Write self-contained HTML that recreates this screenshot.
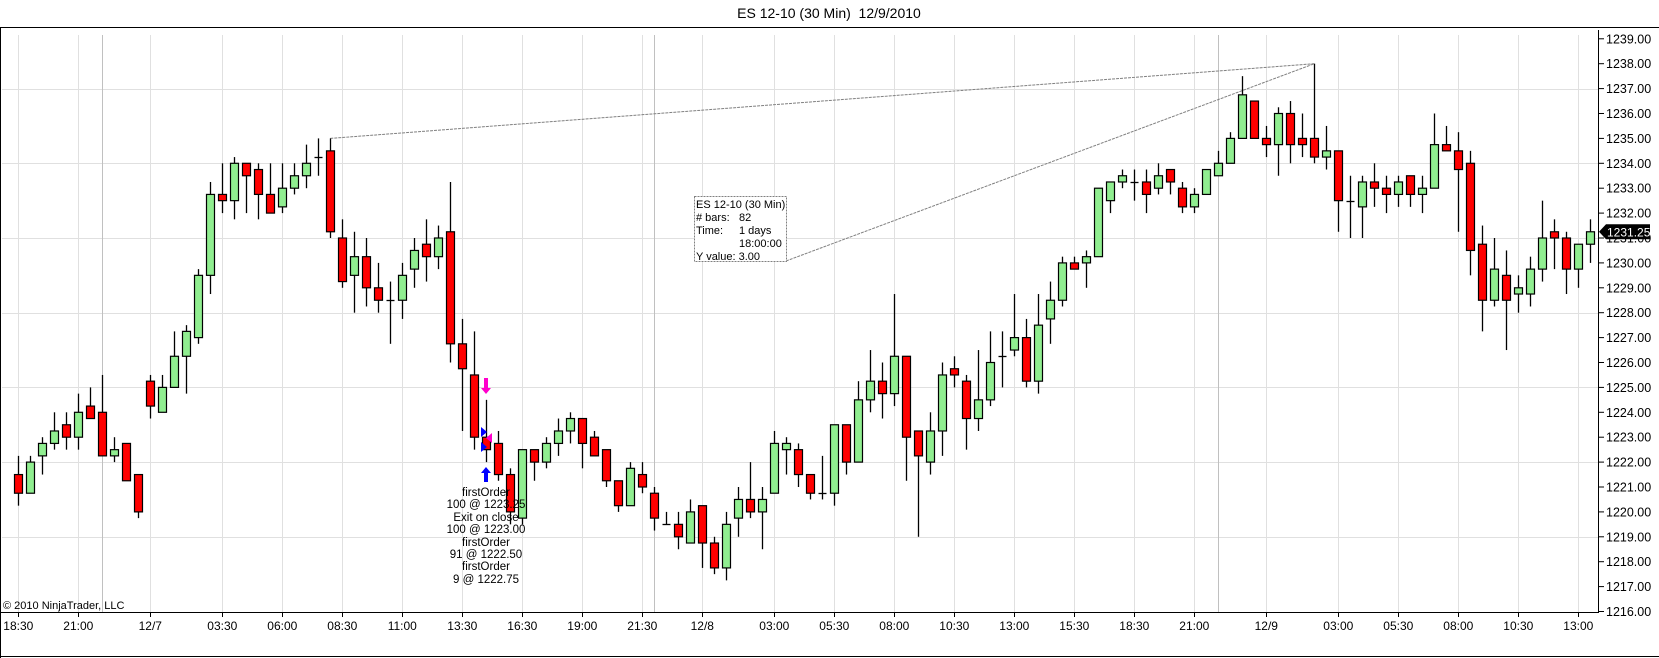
<!DOCTYPE html>
<html><head><meta charset="utf-8"><style>
html,body{margin:0;padding:0;background:#fff;}
svg{display:block;font-family:"Liberation Sans",Arial,sans-serif;}
</style></head><body>
<svg id="chart" width="1659" height="658" viewBox="0 0 1659 658" xmlns="http://www.w3.org/2000/svg">
<text x="829" y="18" text-anchor="middle" font-size="14" fill="#000" xml:space="preserve" style="white-space:pre">ES 12-10 (30 Min)  12/9/2010</text>
<g id="grid"></g>
<g id="frame">
<line x1="0" y1="27.5" x2="1659" y2="27.5" stroke="#000"/>
<line x1="0.5" y1="27" x2="0.5" y2="658" stroke="#000"/>
<line x1="0" y1="612.5" x2="1599" y2="612.5" stroke="#000"/>
<line x1="0" y1="656.5" x2="1659" y2="656.5" stroke="#000"/>
<line x1="1598.5" y1="30" x2="1598.5" y2="613" stroke="#000"/>
</g>
<g id="drawings"></g>
<g id="candles"></g>
<g id="yaxis"></g>
<g id="xaxis"></g>
<g id="orders">
<polygon points="484,378 488,378 488,388 491,388 486,394 481,388 484,388" fill="#ff00cc"/>
<polygon points="481,427 487,432 481,437" fill="#0000ff"/>
<polygon points="481,442 487,447 481,452" fill="#0000ff"/>
<polygon points="492,433 486,438 492,443" fill="#ff00cc"/>
<polygon points="486,467 491,473 488,473 488,482 484,482 484,473 481,473" fill="#0000ff"/>
<g font-size="11.5" text-anchor="middle" fill="#000">
<text x="486" y="496">firstOrder</text>
<text x="486" y="508">100 @ 1223.25</text>
<text x="486" y="521">Exit on close</text>
<text x="486" y="533">100 @ 1223.00</text>
<text x="486" y="546">firstOrder</text>
<text x="486" y="558">91 @ 1222.50</text>
<text x="486" y="570">firstOrder</text>
<text x="486" y="583">9 @ 1222.75</text>
</g>
</g>
<text x="3" y="609" font-size="11" fill="#000">© 2010 NinjaTrader, LLC</text>
</svg>
<script>
const opens=[1221.5,1220.75,1222.25,1222.75,1223.5,1223,1224.25,1224,1222.25,1222.75,1221.5,1225.25,1224,1225,1226.25,1227,1229.5,1232.75,1232.5,1234,1233.75,1232.75,1232.25,1233,1233.5,1234.25,1234.5,1231,1229.5,1230.25,1229,1228.5,1228.5,1229.75,1230.75,1230.25,1231.25,1226.75,1225.5,1223,1222.75,1221.5,1219.75,1222.5,1222,1222.75,1223.25,1223.75,1223,1222.5,1221.25,1220.25,1221.5,1220.75,1219.5,1219.5,1218.75,1220.25,1218.75,1217.75,1219.75,1220.5,1220,1220.75,1222.5,1222.5,1221.5,1220.75,1220.75,1223.5,1222,1224.5,1225.25,1224.75,1226.25,1223.25,1222,1223.25,1225.75,1225.25,1223.75,1224.5,1226.25,1226.5,1227,1225.25,1227.75,1228.5,1230,1230,1230.25,1232.5,1233.25,1233.25,1233.25,1233,1233.75,1233,1232.25,1232.75,1233.5,1234,1235,1236.5,1235,1234.75,1236,1235,1235,1234.25,1234.5,1232.5,1232.25,1233.25,1233,1232.75,1233.5,1232.75,1233,1234.75,1234.5,1234,1230.75,1228.5,1229.5,1228.75,1228.75,1229.75,1231.25,1231,1229.75,1230.75];
const highs=[1222.25,1222.25,1223,1224,1224,1224.75,1225,1225.5,1223,1222.75,1221.5,1225.5,1225.5,1227.25,1227.5,1229.75,1233.25,1234,1234.25,1234,1234,1234,1234,1234,1234.75,1235,1235,1231.75,1231.25,1231,1230,1229.25,1230,1231,1231.75,1231.5,1233.25,1227.75,1227.25,1224.5,1223.25,1221.75,1222.5,1222.5,1223,1223.75,1224,1223.75,1223.25,1222.5,1221.25,1222,1222,1221,1220,1220,1220.5,1220.25,1219,1220,1221,1222,1221,1223.25,1223,1222.75,1221.5,1222.25,1223.5,1223.5,1225.25,1226.5,1226,1228.75,1226.25,1223.25,1224,1226,1226.25,1225.5,1226.5,1227.25,1227.25,1228.75,1227.75,1228.75,1229.25,1230.25,1230.25,1230.5,1233,1233.25,1233.75,1233.75,1233.75,1234,1233.75,1233.25,1233,1233.75,1234.5,1235.25,1237.5,1236.5,1235.5,1236.25,1236.5,1236,1238,1235.5,1234.5,1233.5,1233.5,1234,1233.5,1233.5,1233.5,1233.5,1236,1235.5,1235.25,1234.5,1231.5,1231,1230.5,1229.5,1230.25,1232.5,1231.75,1231.25,1230.75,1231.75];
const lows=[1220.25,1220.75,1221.5,1222.5,1222.5,1222.5,1223.75,1222.25,1222,1221.25,1219.75,1223.75,1224,1225,1224.75,1226.75,1228.75,1232,1231.75,1232,1231.75,1232,1232,1232.75,1233,1233.5,1231,1229,1228,1228.25,1228,1226.75,1227.75,1229,1229.25,1229.75,1226,1223.25,1222.5,1222,1221.25,1219.5,1219.5,1221.25,1221.75,1222.25,1222.75,1221.75,1222.25,1221,1220,1220.25,1220.75,1219.25,1219.5,1218.5,1218.75,1217.75,1217.5,1217.25,1219,1219.75,1218.5,1220.75,1221.5,1221,1220.5,1220.5,1220.25,1221.5,1222,1224,1223.75,1224.25,1221.25,1219,1221.5,1222.25,1225,1222.5,1223.25,1224.25,1225,1226.25,1225,1224.75,1226.75,1228.25,1229.75,1229,1230.25,1232,1233,1232.5,1232,1232.75,1232.75,1232,1232,1232.75,1233.5,1234,1235,1235,1234.25,1233.5,1234,1234.25,1234,1233.75,1231.25,1231,1231,1232.25,1232,1232.25,1232.25,1232,1233,1234.5,1231.25,1229.5,1227.25,1228.25,1226.5,1228,1228.25,1229.25,1229.75,1228.75,1229,1230];
const closes=[1220.75,1222,1222.75,1223.25,1223,1224,1223.75,1222.25,1222.5,1221.25,1220,1224.25,1225,1226.25,1227.25,1229.5,1232.75,1232.5,1234,1233.5,1232.75,1232,1233,1233.5,1234,1234.25,1231.25,1229.25,1230.25,1229,1228.5,1228.5,1229.5,1230.5,1230.25,1231,1226.75,1225.75,1223,1222.5,1221.5,1220,1222.5,1222,1222.75,1223.25,1223.75,1222.75,1222.25,1221.25,1220.25,1221.75,1221,1219.75,1219.5,1219,1220,1218.75,1217.75,1219.5,1220.5,1220,1220.5,1222.75,1222.75,1221.5,1220.75,1220.75,1223.5,1222,1224.5,1225.25,1224.75,1226.25,1223,1222.25,1223.25,1225.5,1225.5,1223.75,1224.5,1226,1226.25,1227,1225.25,1227.5,1228.5,1230,1229.75,1230.25,1233,1233.25,1233.5,1233.25,1232.75,1233.5,1233.25,1232.25,1232.75,1233.75,1234,1235,1236.75,1235,1234.75,1236,1234.75,1234.75,1234.25,1234.5,1232.5,1232.5,1233.25,1233,1232.75,1233.25,1232.75,1233,1234.75,1234.5,1233.75,1230.5,1228.5,1229.75,1228.5,1229,1229.75,1231,1231,1229.75,1230.75,1231.25];
const timeLabels=["18:30","21:00","12/7","03:30","06:00","08:30","11:00","13:30","16:30","19:00","21:30","12/8","03:00","05:30","08:00","10:30","13:00","15:30","18:30","21:00","12/9","03:00","05:30","08:00","10:30","13:00"];
const timeLabelBars=[0,5,11,17,22,27,32,37,42,47,52,57,63,68,73,78,83,88,93,98,104,110,115,120,125,130];
const sessionBreakBars=[7,53,100];
const priceTicks=[1216,1217,1218,1219,1220,1221,1222,1223,1224,1225,1226,1227,1228,1229,1230,1231,1232,1233,1234,1235,1236,1237,1238,1239];
const gridPrices=[1219,1222,1225,1228,1231,1234,1237];
const lastPrice=1231.25;
const trendA=[26,1235,108,1238];

const NS="http://www.w3.org/2000/svg";
function xOf(i){return 18.3+i*12;}
function yOf(p){return 163.3+(1234-p)*24.9;}
function mk(tag,attrs,parent){const e=document.createElementNS(NS,tag);for(const k in attrs)e.setAttribute(k,attrs[k]);parent.appendChild(e);return e;}
const grid=document.getElementById('grid');
gridPrices.forEach(p=>{
  const y=Math.round(yOf(p))+0.5;
  const l=mk('line',{x1:2,y1:y,x2:1598,y2:y,stroke:'#e0e0e0'},grid);
  
  
});
timeLabelBars.forEach(b=>{
  const x=Math.round(xOf(b))+0.5;
  const l=mk('line',{x1:x,y1:35,x2:x,y2:612,stroke:'#e0e0e0'},grid);
  
  
});
sessionBreakBars.forEach(b=>{
  const x=Math.round(xOf(b))+0.5;
  const l=mk('line',{x1:x,y1:35,x2:x,y2:612,stroke:'#c0c0c0'},grid);
  
  
});
const cg=document.getElementById('candles');
for(let i=0;i<opens.length;i++){
  const x=Math.round(xOf(i));
  const g=mk('g',{},cg);
  
  
  mk('line',{x1:x+0.5,y1:yOf(highs[i]),x2:x+0.5,y2:yOf(lows[i]),stroke:'#000','stroke-width':1.3},g);
  const o=opens[i],c=closes[i];
  if(o===c){
    mk('line',{x1:x-3.5,y1:Math.round(yOf(o))+0.5,x2:x+4.5,y2:Math.round(yOf(o))+0.5,stroke:'#000','stroke-width':1.3},g);
  }else{
    const top=yOf(Math.max(o,c)),bot=yOf(Math.min(o,c));
    mk('rect',{x:x-3.5,y:top,width:8,height:bot-top,fill:c>o?'#90ee90':'#ff0000',stroke:'#000','stroke-width':1.2},g);
  }
}
const ya=document.getElementById('yaxis');
priceTicks.forEach(p=>{
  const y=yOf(p);
  mk('line',{x1:1598,y1:y,x2:1604,y2:y,stroke:'#000'},ya);
  const t=mk('text',{x:1606,y:y+4.5,'font-size':12.5,fill:'#000'},ya);
  t.textContent=p.toFixed(2);
  
  
});
const ly=yOf(lastPrice);
const tag=mk('polygon',{points:`1599,${ly} 1606,${ly-7.5} 1650,${ly-7.5} 1650,${ly+7.5} 1606,${ly+7.5}`,fill:'#000'},ya);


const tt=mk('text',{x:1607,y:ly+4.5,'font-size':12,fill:'#fff'},ya);
tt.textContent=lastPrice.toFixed(2);


const xa=document.getElementById('xaxis');
timeLabels.forEach((s,k)=>{
  const x=xOf(timeLabelBars[k]);
  mk('line',{x1:Math.round(x)+0.5,y1:612,x2:Math.round(x)+0.5,y2:617,stroke:'#000'},xa);
  const t=mk('text',{x:x,y:630,'font-size':12,'text-anchor':'middle',fill:'#000'},xa);
  t.textContent=s;
  
  
});
const dr=document.getElementById('drawings');
const ax1=xOf(trendA[0]),ay1=yOf(trendA[1]),ax2=xOf(trendA[2]),ay2=yOf(trendA[3]);
const l1=mk('line',{x1:ax1,y1:ay1,x2:ax2,y2:ay2,stroke:'#808080','stroke-dasharray':'3,1'},dr);


const l2=mk('line',{x1:786,y1:261,x2:ax2,y2:ay2,stroke:'#808080','stroke-dasharray':'3,1'},dr);


const box=mk('rect',{x:694.5,y:196.5,width:92,height:65,fill:'#fff',stroke:'#808080','stroke-dasharray':'2,1'},dr);


const rows=[["ES 12-10 (30 Min)",""],["# bars:","82"],["Time:","1 days"],["","18:00:00"],["Y value: 3.00",""]];
rows.forEach((r,k)=>{
  const y=208+k*13;
  const a=mk('text',{x:696,y:y,'font-size':11,fill:'#000'},dr);
  a.textContent=r[0];
  
  
  if(r[1]){
    const b=mk('text',{x:739,y:y,'font-size':11,fill:'#000'},dr);
    b.textContent=r[1];
    
    
  }
});
</script>
</body></html>
